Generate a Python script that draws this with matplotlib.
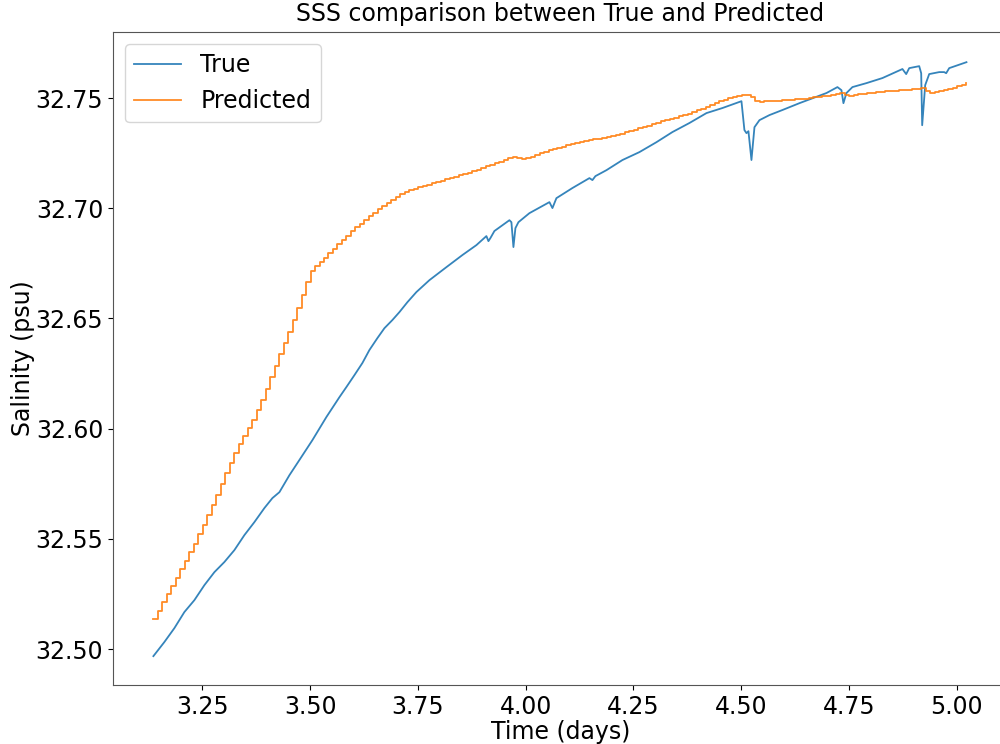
import numpy as np
import matplotlib
matplotlib.use('Agg')
import matplotlib.pyplot as plt

# ── Data ──────────────────────────────────────────────────────────────────────
# True salinity: irregular sampling so the short dips keep their shape
true_time = [
    3.1363, 3.1618, 3.1850, 3.2082, 3.2314, 3.2546, 3.2778, 3.3010, 3.3242, 3.3474,
    3.3706, 3.3939, 3.4124, 3.4287, 3.4519, 3.4751, 3.5052, 3.5377, 3.5679, 3.5841,
    3.6027, 3.6212, 3.6375, 3.6560, 3.6723, 3.6908, 3.7071, 3.7256, 3.7465, 3.7767,
    3.8161, 3.8533, 3.8857, 3.9089, 3.9136, 3.9182, 3.9275, 3.9623, 3.9669, 3.9716,
    3.9762, 3.9832, 4.0087, 4.0551, 4.0621, 4.0713, 4.1085, 4.1479, 4.1549, 4.1618,
    4.1874, 4.2245, 4.2639, 4.3034, 4.3405, 4.3799, 4.4194, 4.4565, 4.5006, 4.5075,
    4.5122, 4.5168, 4.5238, 4.5308, 4.5424, 4.5656, 4.5957, 4.6351, 4.6978, 4.7233,
    4.7326, 4.7372, 4.7442, 4.7581, 4.7906, 4.8277, 4.8741, 4.8828, 4.8898, 4.9130,
    4.9176, 4.9199, 4.9269, 4.9362, 4.9594, 4.9710, 4.9756, 4.9826, 5.0226,
]
true_sss = [
    32.4968, 32.5032, 32.5095, 32.5168, 32.5222, 32.5290, 32.5349, 32.5395, 32.5449, 32.5517,
    32.5576, 32.5640, 32.5685, 32.5712, 32.5789, 32.5858, 32.5948, 32.6053, 32.6143, 32.6189,
    32.6243, 32.6298, 32.6357, 32.6411, 32.6456, 32.6493, 32.6529, 32.6574, 32.6620, 32.6674,
    32.6733, 32.6788, 32.6833, 32.6874, 32.6851, 32.6865, 32.6897, 32.6946, 32.6937, 32.6824,
    32.6910, 32.6937, 32.6978, 32.7028, 32.7001, 32.7046, 32.7092, 32.7137, 32.7128, 32.7146,
    32.7173, 32.7219, 32.7255, 32.7300, 32.7346, 32.7387, 32.7432, 32.7455, 32.7486, 32.7355,
    32.7341, 32.7350, 32.7219, 32.7368, 32.7400, 32.7423, 32.7446, 32.7477, 32.7523, 32.7550,
    32.7536, 32.7477, 32.7523, 32.7550, 32.7568, 32.7591, 32.7632, 32.7609, 32.7636, 32.7645,
    32.7613, 32.7377, 32.7559, 32.7609, 32.7618, 32.7618, 32.7613, 32.7636, 32.7663,
]

# Predicted salinity: one value per 15-minute step
pred_start = 3.1363
pred_step = 1 / 96
pred_sss = [
    32.5136, 32.5174, 32.5212, 32.5250, 32.5287, 32.5324, 32.5363, 32.5401, 32.5440, 32.5479,
    32.5521, 32.5564, 32.5608, 32.5653, 32.5699, 32.5748, 32.5797, 32.5844, 32.5890, 32.5929,
    32.5967, 32.6004, 32.6041, 32.6084, 32.6131, 32.6181, 32.6233, 32.6286, 32.6337, 32.6387,
    32.6440, 32.6493, 32.6549, 32.6606, 32.6667, 32.6717, 32.6738, 32.6758, 32.6776, 32.6795,
    32.6816, 32.6839, 32.6858, 32.6876, 32.6895, 32.6913, 32.6931, 32.6948, 32.6964, 32.6980,
    32.6997, 32.7012, 32.7026, 32.7039, 32.7051, 32.7063, 32.7073, 32.7083, 32.7089, 32.7095,
    32.7101, 32.7108, 32.7113, 32.7119, 32.7125, 32.7132, 32.7138, 32.7144, 32.7150, 32.7156,
    32.7162, 32.7168, 32.7174, 32.7181, 32.7190, 32.7197, 32.7204, 32.7210, 32.7218, 32.7226,
    32.7234, 32.7226, 32.7222, 32.7228, 32.7235, 32.7243, 32.7251, 32.7257, 32.7263, 32.7269,
    32.7275, 32.7280, 32.7285, 32.7290, 32.7295, 32.7299, 32.7304, 32.7309, 32.7313, 32.7316,
    32.7320, 32.7324, 32.7329, 32.7334, 32.7339, 32.7345, 32.7351, 32.7357, 32.7363, 32.7369,
    32.7375, 32.7381, 32.7387, 32.7394, 32.7400, 32.7406, 32.7412, 32.7418, 32.7424, 32.7430,
    32.7437, 32.7444, 32.7451, 32.7458, 32.7467, 32.7476, 32.7485, 32.7493, 32.7499, 32.7505,
    32.7509, 32.7513, 32.7514, 32.7507, 32.7489, 32.7482, 32.7485, 32.7487, 32.7488, 32.7489,
    32.7490, 32.7491, 32.7493, 32.7494, 32.7495, 32.7498, 32.7501, 32.7503, 32.7506, 32.7508,
    32.7511, 32.7513, 32.7517, 32.7521, 32.7514, 32.7509, 32.7513, 32.7517, 32.7520, 32.7523,
    32.7525, 32.7527, 32.7529, 32.7530, 32.7532, 32.7534, 32.7536, 32.7538, 32.7539, 32.7541,
    32.7543, 32.7545, 32.7534, 32.7524, 32.7528, 32.7532, 32.7536, 32.7541, 32.7546, 32.7553,
    32.7561, 32.7568,
]
pred_time = pred_start + pred_step * np.arange(len(pred_sss))

FS = 17

# ── Figure ────────────────────────────────────────────────────────────────────
fig = plt.figure(figsize=(10, 7.44), dpi=100)
ax = fig.add_axes([0.113, 0.0793, 0.895, 0.8777])

ax.plot(true_time, true_sss, color='#1f77b4', lw=1.3, alpha=0.9, label='True')
ax.plot(pred_time, pred_sss, color='#ff7f0e', lw=1.3, alpha=0.9, label='Predicted',
        drawstyle='steps-post')

ax.set_xlim(3.0426, 5.119)
ax.set_ylim(32.4837, 32.7800)
ax.set_xticks([3.25, 3.50, 3.75, 4.00, 4.25, 4.50, 4.75, 5.00])
ax.set_yticks([32.50, 32.55, 32.60, 32.65, 32.70, 32.75])
ax.tick_params(labelsize=FS)

for sp in ax.spines.values():
    sp.set_color('#555555')

ax.set_title('SSS comparison between True and Predicted', fontsize=FS, pad=8)
ax.set_xlabel('Time (days)', fontsize=FS, labelpad=1)
ax.set_ylabel('Salinity (psu)', fontsize=FS, labelpad=0)
ax.legend(loc='upper left', fontsize=FS)

fig.savefig('out.png', dpi=100)
